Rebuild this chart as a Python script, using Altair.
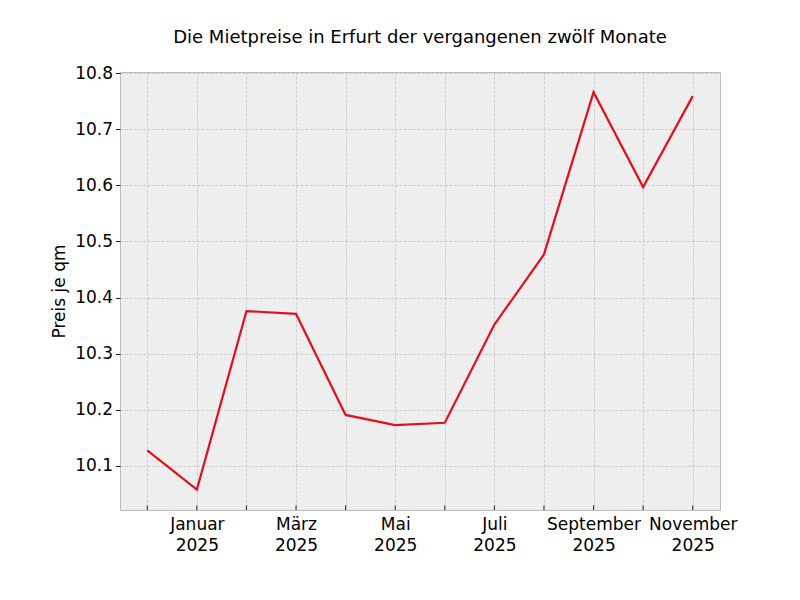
import json
import altair as alt
import pandas as pd

# data
months = ["Dezember", "Januar", "Februar", "März", "April", "Mai", "Juni",
          "Juli", "August", "September", "Oktober", "November"]
years = ["2024", "2025", "2025", "2025", "2025", "2025", "2025",
         "2025", "2025", "2025", "2025", "2025"]
prices = [10.128, 10.058, 10.376, 10.371, 10.191, 10.173, 10.177,
          10.352, 10.477, 10.766, 10.597, 10.759]
y_ticks = [10.1, 10.2, 10.3, 10.4, 10.5, 10.6, 10.7, 10.8]

idx = list(range(len(months)))
df = pd.DataFrame({"idx": idx, "monat": months, "jahr": years, "preis": prices})

tick_texts = [f"{m}|{y}" if i % 2 == 1 else "" for i, (m, y) in enumerate(zip(months, years))]
label_expr = f"split({json.dumps(tick_texts, ensure_ascii=False)}[datum.value], '|')"

W, H = 600, 438
FONT = "DejaVu Sans"
RED = "#e2101e"

x_scale = alt.Scale(domain=[-0.55, len(months) - 1 + 0.55], nice=False, zero=False)
y_scale = alt.Scale(domain=[10.0216, 10.802], nice=False, zero=False)

x_axis = alt.Axis(values=idx, labelExpr=label_expr, title=None, grid=True,
                  ticks=False, domain=False, labelFontSize=17, labelFont=FONT,
                  labelColor="#000000", labelPadding=6, labelLineHeight=21,
                  labelOverlap=False, labelBound=False, labelFlush=False,
                  gridColor="#b8b8b8", gridDash=[3, 1.5], gridWidth=0.6)
y_axis = alt.Axis(values=y_ticks, format=".1f", title="Preis je qm", grid=True,
                  domain=False, tickSize=4.5, tickColor="#222222", tickWidth=1,
                  labelFontSize=17, labelFont=FONT, labelColor="#000000",
                  labelPadding=3, titleFontSize=17, titleFont=FONT,
                  titleFontWeight="normal", titleColor="#000000", titlePadding=6,
                  labelOverlap=False, gridColor="#b8b8b8", gridDash=[3, 1.5],
                  gridWidth=0.6)

line = alt.Chart(df).mark_line(color=RED, strokeWidth=2.2).encode(
    x=alt.X("idx:Q", scale=x_scale, axis=x_axis),
    y=alt.Y("preis:Q", scale=y_scale, axis=y_axis),
)

ticks = alt.Chart(df).mark_rule(color="#222222", strokeWidth=1).encode(
    x=alt.X("idx:Q", scale=x_scale),
    y=alt.value(H),
    y2=alt.value(H - 4.5),
)

chart = alt.layer(line, ticks).properties(
    width=W, height=H,
    title=alt.TitleParams("Die Mietpreise in Erfurt der vergangenen zwölf Monate",
                          fontSize=18, fontWeight="normal", font=FONT,
                          color="#000000", anchor="middle", offset=17),
    autosize=alt.AutoSizeParams(type="none"),
    padding={"left": 112, "top": 64, "right": 60, "bottom": 60},
    background="#ffffff",
).configure_view(
    fill="#eeeeee", stroke="#bcbcbc", strokeWidth=1
)

chart.save("out.html", embed_options={"renderer": "svg", "actions": False})
